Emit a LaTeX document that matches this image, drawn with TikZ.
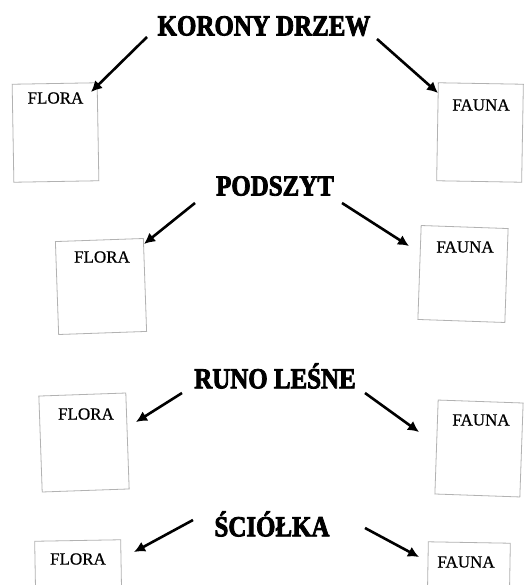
\documentclass[tikz,border=0pt]{standalone}
\usepackage{fontspec}
\usepackage{graphicx}
\setmainfont{Liberation Serif}
\newfontfamily\ttlfont[FakeBold=3]{Liberation Serif Bold}
\newfontfamily\lblfont[FakeBold=0.6]{Liberation Serif}
\usetikzlibrary{arrows.meta}
\tikzset{
  paperbox/.style={draw=gray!60, line width=0.8pt, minimum width=#1, inner sep=0pt, fill=white},
  ttl/.style={font=\ttlfont\fontsize{29}{29}\selectfont, inner sep=0pt},
  lbl/.style={font=\lblfont\fontsize{17}{17}\selectfont, inner sep=0pt},
  arr/.style={line width=2.6pt, -{Latex[length=11pt,width=11pt]}}
}
\newcommand{\ttltext}[1]{\scalebox{0.86}[1]{#1}}
\begin{document}
\begin{tikzpicture}[x=1pt,y=-1pt]
\useasboundingbox (0,0) rectangle (529,585);
\fill[white] (0,0) rectangle (529,585);
% boxes
\node[paperbox=85pt, minimum height=98pt, rotate=1] (b1l) at (55.5,132.5) {};
\node[paperbox=85pt, minimum height=98pt, rotate=-1] (b1r) at (480,132.5) {};
\node[paperbox=88pt, minimum height=93pt, rotate=2] (b2l) at (101,286.5) {};
\node[paperbox=87pt, minimum height=94pt, rotate=-2] (b2r) at (463,274) {};
\node[paperbox=87pt, minimum height=96pt, rotate=2] (b3l) at (84,442.5) {};
\node[paperbox=85pt, minimum height=94pt, rotate=-2] (b3r) at (479,448.5) {};
\node[paperbox=86pt, minimum height=95pt, rotate=1] (b4l) at (78.5,588) {};
\node[paperbox=82pt, minimum height=95pt, rotate=-1] (b4r) at (468.5,590) {};
% labels
\node[lbl] (f1) at (55.5,98) {FLORA};
\node[lbl] (a1) at (481,105) {FAUNA};
\node[lbl] (f2) at (102,257) {FLORA};
\node[lbl] (a2) at (465,247) {FAUNA};
\node[lbl] (f3) at (86,414) {FLORA};
\node[lbl] (a3) at (481,420) {FAUNA};
\node[lbl] (f4) at (78,559) {FLORA};
\node[lbl] (a4) at (466,562) {FAUNA};
% titles
\node[ttl] (t1) at (264,26) {\ttltext{KORONY DRZEW}};
\node[ttl] (t2) at (275,186) {\ttltext{PODSZYT}};
\node[ttl] (t3) at (275,376) {\ttltext{RUNO LEŚNE}};
\node[ttl] (t4) at (272,524) {\ttltext{ŚCIÓŁKA}};
% arrow endpoints
\coordinate (s1l) at (147,37);  \coordinate (e1l) at (91,92);
\coordinate (s1r) at (377,39);  \coordinate (e1r) at (438,93);
\coordinate (s2l) at (195,203); \coordinate (e2l) at (144,244);
\coordinate (s2r) at (342,203); \coordinate (e2r) at (409,246);
\coordinate (s3l) at (182,393); \coordinate (e3l) at (136,422);
\coordinate (s3r) at (365,393); \coordinate (e3r) at (419,432);
\coordinate (s4l) at (193,520); \coordinate (e4l) at (134,552);
\coordinate (s4r) at (365,528); \coordinate (e4r) at (419,557);
\foreach \a in {1l,1r,2l,2r,3l,3r,4l,4r}{
  \draw[arr] (s\a) -- (e\a);
}
\end{tikzpicture}
\end{document}
